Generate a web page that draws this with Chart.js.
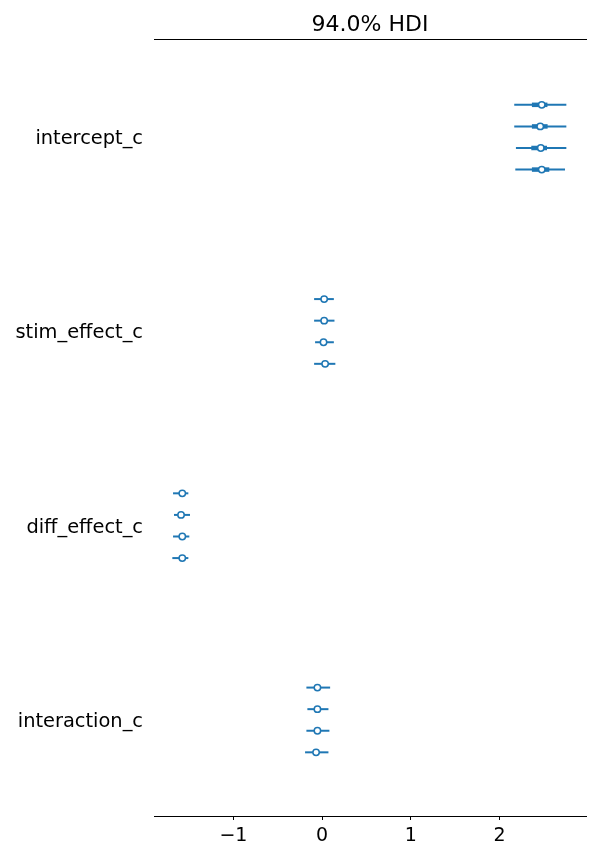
<!DOCTYPE html>
<html>
<head>
<meta charset="utf-8">
<script src="https://cdn.jsdelivr.net/npm/chart.js@4/dist/chart.umd.min.js"></script>
<style>
  html, body { margin: 0; padding: 0; background: #fff; }
  #wrap { width: 600px; height: 860px; }
</style>
</head>
<body>
<div id="wrap"><canvas id="c" width="600" height="860"></canvas></div>
<script>
// ---- data ----
const categories = ['intercept_c', 'stim_effect_c', 'diff_effect_c', 'interaction_c'];
const chains = [0, 1, 2, 3];
const xTicks = [-1, 0, 1, 2];
const titleText = '94.0% HDI';

// 94% HDI bounds, per variable, per chain
const hdiLow = [
  [2.178, 2.178, 2.197, 2.190],
  [-0.079, -0.079, -0.068, -0.079],
  [-1.670, -1.659, -1.670, -1.678],
  [-0.166, -0.155, -0.166, -0.181]
];
const hdiHigh = [
  [2.743, 2.743, 2.743, 2.728],
  [0.121, 0.128, 0.121, 0.138],
  [-1.520, -1.501, -1.509, -1.520],
  [0.079, 0.060, 0.071, 0.060]
];
// interquartile range (thick segment)
const q25 = [
  [2.366, 2.366, 2.359, 2.366],
  [-0.005, -0.005, -0.012, 0.006],
  [-1.602, -1.615, -1.602, -1.602],
  [-0.080, -0.080, -0.080, -0.094]
];
const q75 = [
  [2.541, 2.543, 2.536, 2.562],
  [0.050, 0.050, 0.043, 0.061],
  [-1.552, -1.566, -1.552, -1.552],
  [-0.026, -0.026, -0.026, -0.041]
];
const medians = [
  [2.477, 2.460, 2.466, 2.477],
  [0.023, 0.023, 0.016, 0.034],
  [-1.577, -1.591, -1.577, -1.577],
  [-0.053, -0.053, -0.053, -0.068]
];

// ---- layout helpers ----
const GROUP_GAP = 9;
const yOf = (g, c) => g * GROUP_GAP + (c - 1.5);
const groupTicks = categories.map((_, g) => g * GROUP_GAP);
const BLUE = '#1f77b4';
const FONT = "'DejaVu Sans', sans-serif";

const datasets = [];
const medianPts = [];
categories.forEach((cat, g) => {
  chains.forEach(c => {
    const y = yOf(g, c);
    datasets.push({
      type: 'line',
      data: [{x: hdiLow[g][c], y}, {x: hdiHigh[g][c], y}],
      borderColor: BLUE, borderWidth: 2, borderCapStyle: 'square',
      pointRadius: 0, showLine: true, order: 2
    });
    datasets.push({
      type: 'line',
      data: [{x: q25[g][c], y}, {x: q75[g][c], y}],
      borderColor: BLUE, borderWidth: 4.5, borderCapStyle: 'butt',
      pointRadius: 0, showLine: true, order: 1
    });
    medianPts.push({x: medians[g][c], y});
  });
});
datasets.push({
  type: 'scatter',
  data: medianPts,
  pointRadius: 3.2, pointBorderWidth: 1.5,
  pointBackgroundColor: '#ffffff', pointBorderColor: BLUE,
  order: 0
});

const X_MIN = -1.896, X_MAX = 2.976;

new Chart(document.getElementById('c'), {
  type: 'scatter',
  data: { datasets },
  options: {
    responsive: false,
    animation: false,
    events: [],
    layout: { padding: { left: 0, right: 14, top: 0, bottom: 0 } },
    plugins: { legend: { display: false }, tooltip: { enabled: false }, title: { display: false } },
    scales: {
      x: {
        type: 'linear', position: 'bottom', min: X_MIN, max: X_MAX,
        afterBuildTicks: s => { s.ticks = xTicks.map(v => ({value: v})); },
        afterFit: s => { s.height = 44; },
        ticks: {
          color: '#000', padding: 5,
          font: { family: FONT, size: 19 },
          callback: v => (v < 0 ? '\u2212' + Math.abs(v) : String(v))
        },
        grid: { display: true, drawOnChartArea: false, drawTicks: true, tickLength: 4, color: '#000', tickWidth: 1 },
        border: { display: true, color: '#000', width: 1 }
      },
      x2: {
        type: 'linear', position: 'top', min: X_MIN, max: X_MAX,
        afterFit: s => { s.height = 39; },
        ticks: { display: false },
        grid: { display: false, drawTicks: false },
        border: { display: true, color: '#000', width: 1 },
        title: {
          display: true, text: titleText, color: '#000',
          font: { family: FONT, size: 22 }, padding: { top: 12, bottom: 0 }
        }
      },
      y: {
        type: 'linear', position: 'left', reverse: true, min: -4.55, max: 31.45,
        afterBuildTicks: s => { s.ticks = groupTicks.map(v => ({value: v})); },
        afterFit: s => { s.width = 154; },
        ticks: {
          color: '#000', padding: 11, labelOffset: 2,
          font: { family: FONT, size: 19.4 },
          callback: v => { const i = groupTicks.indexOf(v); return i >= 0 ? categories[i] : ''; }
        },
        grid: { display: false, drawTicks: false },
        border: { display: false }
      }
    }
  }
});
</script>
</body>
</html>
